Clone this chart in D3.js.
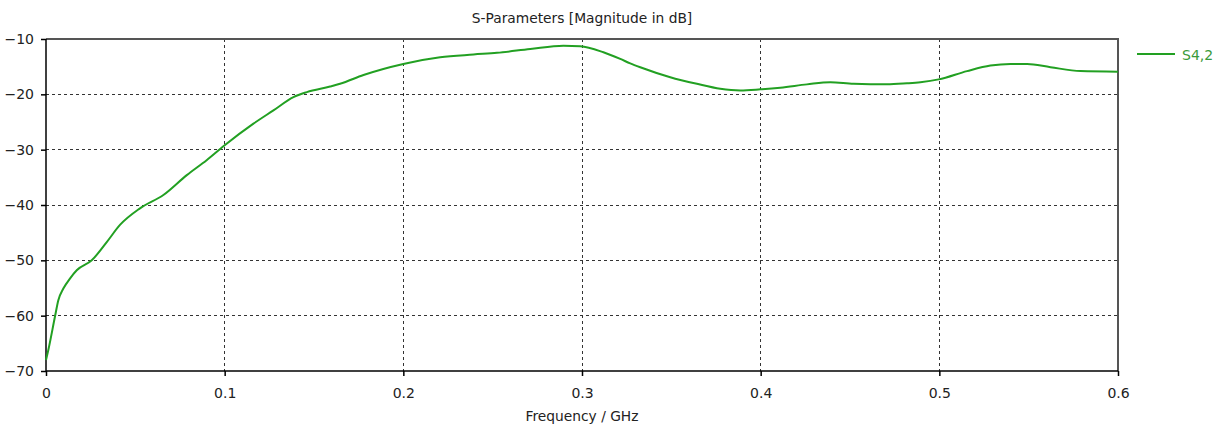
<!DOCTYPE html>
<html>
<head>
<meta charset="utf-8">
<script src="https://cdn.jsdelivr.net/npm/d3@7"></script>
<style>
  html, body { margin: 0; padding: 0; background: #fff; }
  svg { display: block; }
  text { font-family: "DejaVu Sans", Verdana, sans-serif; fill: #222; }
</style>
</head>
<body>
<svg id="chart" width="1228" height="425"></svg>
<script>
// S4,2 magnitude (dB) versus frequency (GHz)
const freqGHz = [0.000, 0.0013, 0.005, 0.0069, 0.0097, 0.0134, 0.0172, 0.0256, 0.034, 0.0414,
  0.0526, 0.0657, 0.0788, 0.0899, 0.100, 0.1161, 0.1273, 0.1385, 0.146, 0.159,
  0.1646, 0.1777, 0.200, 0.2206, 0.2393, 0.2524, 0.271, 0.2896, 0.299, 0.312,
  0.3214, 0.327, 0.3326, 0.3494, 0.3643, 0.3774, 0.3886, 0.3998, 0.411, 0.4259,
  0.439, 0.452, 0.4707, 0.4819, 0.4894, 0.4996, 0.5155, 0.5286, 0.5398, 0.5491,
  0.5622, 0.579, 0.600];
const s42dB = [-68.0, -66.2, -60.2, -57.2, -55.1, -53.3, -51.8, -50.0, -46.7, -43.6,
  -40.6, -38.2, -34.6, -31.9, -29.2, -25.3, -22.9, -20.5, -19.6, -18.6,
  -18.1, -16.5, -14.5, -13.3, -12.8, -12.5, -11.8, -11.2, -11.3, -12.4,
  -13.6, -14.4, -15.1, -16.9, -18.1, -19.0, -19.3, -19.1, -18.8, -18.2,
  -17.8, -18.1, -18.2, -18.0, -17.8, -17.3, -15.8, -14.8, -14.5, -14.5,
  -15.1, -15.8, -15.9];
const xTicks = [0, 0.1, 0.2, 0.3, 0.4, 0.5, 0.6];
const xTickLabels = ["0", "0.1", "0.2", "0.3", "0.4", "0.5", "0.6"];
const yTicks = [-70, -60, -50, -40, -30, -20, -10];
const seriesName = "S4,2";

const svg = d3.select("#chart");
const plotL = 46, plotR = 1118, plotT = 39, plotB = 371;

const x = d3.scaleLinear().domain([0, 0.6]).range([plotL, plotR]);
const y = d3.scaleLinear().domain([-70, -10]).range([plotB, plotT]);

// dashed grid
const grid = svg.append("g");
grid.selectAll("line.v").data(xTicks.slice(1, -1)).join("line")
  .attr("x1", d => x(d)).attr("x2", d => x(d))
  .attr("y1", plotT).attr("y2", plotB)
  .attr("stroke", "#333").attr("stroke-width", 1).attr("stroke-dasharray", "3,3")
  .attr("shape-rendering", "crispEdges");
grid.selectAll("line.h").data(yTicks.slice(1, -1)).join("line")
  .attr("x1", plotL).attr("x2", plotR)
  .attr("y1", d => y(d)).attr("y2", d => y(d))
  .attr("stroke", "#333").attr("stroke-width", 1).attr("stroke-dasharray", "3,3")
  .attr("shape-rendering", "crispEdges");

// top and right frame
svg.append("path")
  .attr("d", `M${plotL},${plotT}H${plotR}V${plotB}`)
  .attr("fill", "none").attr("stroke", "#555").attr("stroke-width", 1.5)
  .attr("shape-rendering", "crispEdges");

// axes
const xAxis = d3.axisBottom(x).tickValues(xTicks)
  .tickFormat((d, i) => xTickLabels[i]).tickSize(5).tickPadding(12);
const yAxis = d3.axisLeft(y).tickValues(yTicks).tickFormat(d3.format("d"))
  .tickSize(5).tickPadding(7);

const gx = svg.append("g").attr("transform", `translate(0,${plotB})`).call(xAxis);
const gy = svg.append("g").attr("transform", `translate(${plotL},0)`).call(yAxis);
[gx, gy].forEach(g => {
  g.select(".domain").attr("stroke", "#000").attr("stroke-width", 1.5);
  g.selectAll(".tick line").attr("stroke", "#000").attr("stroke-width", 1.5);
  g.selectAll(".tick text").style("font-family", "'DejaVu Sans', Verdana, sans-serif")
    .style("font-size", "14px").attr("fill", "#222");
});
gx.select(".domain").attr("d", `M${plotL},0H${plotR}`);
gy.select(".domain").attr("d", `M0,${plotB}V${plotT}`);

// data curve
const line = d3.line()
  .x((d, i) => x(freqGHz[i]))
  .y(d => y(d))
  .curve(d3.curveMonotoneX);
svg.append("path").datum(s42dB)
  .attr("d", line)
  .attr("fill", "none").attr("stroke", "#22a022").attr("stroke-width", 2);

// title and axis label
svg.append("text").attr("x", 582).attr("y", 23).attr("text-anchor", "middle")
  .style("font-size", "13.8px").text("S-Parameters [Magnitude in dB]");
svg.append("text").attr("x", 582).attr("y", 421).attr("text-anchor", "middle")
  .style("font-size", "13.8px").text("Frequency / GHz");

// legend
svg.append("line").attr("x1", 1137).attr("x2", 1175).attr("y1", 54).attr("y2", 54)
  .attr("stroke", "#22a022").attr("stroke-width", 2);
svg.append("text").attr("x", 1182).attr("y", 60)
  .style("font-size", "14px").style("fill", "#3a9a3a").text(seriesName);
</script>
</body>
</html>
